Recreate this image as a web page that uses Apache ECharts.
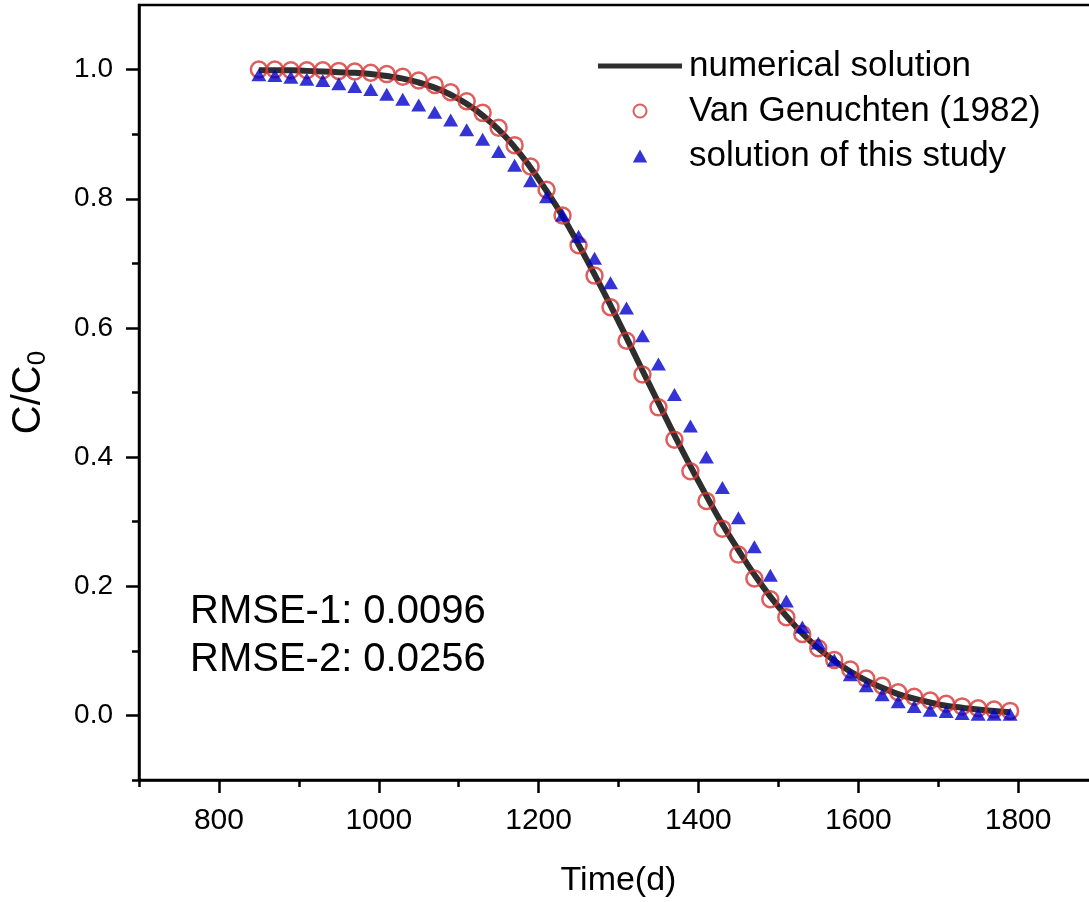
<!DOCTYPE html>
<html><head><meta charset="utf-8">
<script src="https://cdn.jsdelivr.net/npm/echarts@6/dist/echarts.min.js"></script>
<style>html,body{margin:0;padding:0;background:#fff}#c{width:1089px;height:902px}</style>
</head><body><div id="c"></div>
<script>
// ---- data ----
const times = [850,870,890,910,930,950,970,990,1010,1030,1050,1070,1090,1110,1130,1150,1170,1190,1210,1230,1250,1270,1290,1310,1330,1350,1370,1390,1410,1430,1450,1470,1490,1510,1530,1550,1570,1590,1610,1630,1650,1670,1690,1710,1730,1750,1770,1790];
const numerical = [0.999,0.999,0.999,0.998,0.997,0.996,0.995,0.993,0.990,0.986,0.980,0.972,0.961,0.947,0.929,0.907,0.880,0.848,0.812,0.773,0.729,0.683,0.635,0.585,0.534,0.484,0.434,0.386,0.340,0.296,0.256,0.218,0.184,0.154,0.127,0.104,0.085,0.068,0.054,0.043,0.033,0.026,0.020,0.015,0.012,0.009,0.007,0.005];
const vanGenuchten = [1.000,1.000,0.999,0.999,0.999,0.998,0.997,0.995,0.993,0.989,0.983,0.976,0.965,0.951,0.933,0.910,0.883,0.850,0.814,0.774,0.728,0.681,0.632,0.580,0.528,0.477,0.427,0.378,0.332,0.289,0.249,0.212,0.180,0.152,0.126,0.104,0.086,0.071,0.057,0.046,0.036,0.029,0.023,0.018,0.014,0.011,0.009,0.007];
const thisStudy = [0.992,0.991,0.988,0.985,0.983,0.978,0.974,0.969,0.962,0.954,0.945,0.934,0.922,0.907,0.892,0.873,0.852,0.828,0.803,0.775,0.742,0.708,0.670,0.631,0.588,0.544,0.497,0.448,0.400,0.353,0.306,0.261,0.217,0.177,0.137,0.112,0.086,0.063,0.046,0.032,0.021,0.014,0.008,0.006,0.003,0.002,0.002,0.002];
const seriesNames = ['numerical solution', 'Van Genuchten (1982)', 'solution of this study'];
const xTickValues = [800,1000,1200,1400,1600,1800];
const xMinorTickValues = [700,900,1100,1300,1500,1700,1900];
const yTickValues = [0.0,0.2,0.4,0.6,0.8,1.0];
const yMinorTickValues = [-0.1,0.1,0.3,0.5,0.7,0.9];
const rmse1 = '0.0096';
const rmse2 = '0.0256';

const FONT = 'Liberation Sans, Arial, sans-serif';
const chart = echarts.init(document.getElementById('c'), null, {renderer: 'canvas'});
const axisCommon = {
  axisLine: {show: true, onZero: false, lineStyle: {color: '#000', width: 2.5}},
  splitLine: {show: false}
};
chart.setOption({
  animation: false,
  backgroundColor: '#fff',
  grid: {left: 139, top: 5, width: 959, height: 775, show: true, borderColor: '#000', borderWidth: 2.5,
         backgroundColor: 'transparent', containLabel: false, outerBoundsMode: 'none'},
  legend: {
    orient: 'vertical', left: 598, top: 46, padding: 0, itemWidth: 84, itemHeight: 13, itemGap: 5,
    data: [
      {name: seriesNames[0], icon: 'path://M0,0L84,0L84,5L0,5Z'},
      {name: seriesNames[1], icon: 'circle'},
      {name: seriesNames[2], icon: 'path://M5,0L10,9L0,9Z'}
    ],
    textStyle: {fontSize: 35, fontFamily: FONT, color: '#000', lineHeight: 40, padding: [0, 0, 0, 2]}
  },
  xAxis: [
    Object.assign({}, axisCommon, {
      type: 'value', min: 700, max: 1900, position: 'bottom',
      axisTick: {show: true, customValues: xTickValues, length: 13, lineStyle: {color: '#000', width: 2.5}},
      axisLabel: {customValues: xTickValues, formatter: v => String(v), fontSize: 30, fontFamily: FONT, color: '#000', margin: 26},
      name: 'Time(d)', nameLocation: 'middle', nameGap: 84,
      nameTextStyle: {fontSize: 34, fontFamily: FONT, color: '#000'}
    }),
    {
      type: 'value', min: 700, max: 1900, position: 'bottom',
      axisLine: {show: false, onZero: false}, splitLine: {show: false}, axisLabel: {show: false},
      axisTick: {show: true, customValues: xMinorTickValues, length: 7, lineStyle: {color: '#000', width: 2.5}}
    }
  ],
  yAxis: [
    Object.assign({}, axisCommon, {
      type: 'value', min: -0.1, max: 1.1, position: 'left',
      axisTick: {show: true, customValues: yTickValues, length: 13, lineStyle: {color: '#000', width: 2.5}},
      axisLabel: {customValues: yTickValues, formatter: v => v.toFixed(1), fontSize: 28, fontFamily: FONT, color: '#000', margin: 26},
      name: '{a|C/C}{b|0}', nameLocation: 'middle', nameRotate: 90, nameGap: 88,
      nameTextStyle: {color: '#000', fontFamily: FONT, fontSize: 40,
        rich: {a: {fontSize: 40, fontFamily: FONT, color: '#000'}, b: {fontSize: 26, fontFamily: FONT, color: '#000', padding: [18, 0, 0, 0]}}}
    }),
    {
      type: 'value', min: -0.1, max: 1.1, position: 'left',
      axisLine: {show: false, onZero: false}, splitLine: {show: false}, axisLabel: {show: false},
      axisTick: {show: true, customValues: yMinorTickValues, length: 7, lineStyle: {color: '#000', width: 2.5}}
    }
  ],
  series: [
    {
      name: seriesNames[0], type: 'line', xAxisIndex: 0, yAxisIndex: 0,
      data: times.map((t, i) => [t, numerical[i]]),
      showSymbol: false, symbol: 'none', smooth: true, z: 2,
      lineStyle: {color: '#2e2e2e', width: 6}, itemStyle: {color: '#2e2e2e'}
    },
    {
      name: seriesNames[1], type: 'scatter', xAxisIndex: 0, yAxisIndex: 0,
      data: times.map((t, i) => [t, vanGenuchten[i]]),
      symbol: 'circle', symbolSize: 16, z: 3,
      itemStyle: {color: 'rgba(255,255,255,0)', borderColor: '#d83535', borderWidth: 2.5}
    },
    {
      name: seriesNames[2], type: 'scatter', xAxisIndex: 0, yAxisIndex: 0,
      data: times.map((t, i) => [t, thisStudy[i]]),
      symbol: 'triangle', symbolSize: [15, 13], z: 4,
      itemStyle: {color: '#0000cc'}
    }
  ],
  graphic: [{
    type: 'text', left: 190, top: 588, z: 10,
    style: {text: 'RMSE-1: ' + rmse1 + '\nRMSE-2: ' + rmse2, font: '40px ' + FONT, fill: '#000', lineHeight: 48}
  }]
});
</script></body></html>
